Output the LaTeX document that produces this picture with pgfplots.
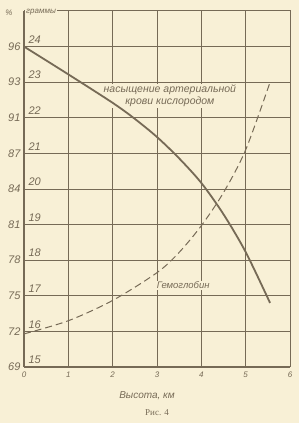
\documentclass[border=0pt]{standalone}
\usepackage{pgfplots}
\pgfplotsset{compat=1.18}
\usepackage{fontspec}
\setmainfont{Liberation Sans}
\newfontfamily\serifru{Liberation Serif}
\definecolor{bg}{RGB}{248,240,214}
\definecolor{ink}{RGB}{118,106,86}
\begin{document}
\begin{tikzpicture}[x=1pt,y=1pt]
\fill[bg] (0,0) rectangle (299,423);
\begin{axis}[at={(24pt,56pt)}, anchor=south west, scale only axis,
  width=266pt, height=356pt,
  xmin=0, xmax=6, ymin=15, ymax=25,
  xtick={0,...,6}, ytick={15,...,24},
  yticklabels={69,72,75,78,81,84,87,91,93,96},
  grid=major, major grid style={ink, line width=0.8pt},
  axis line style={ink, line width=1pt},
  tick style={draw=none},
  /pgf/number format/assume math mode=true,
  xticklabel style={font=\itshape\fontsize{8}{8}\selectfont, text=ink, yshift=-1pt},
  yticklabel style={font=\itshape\fontsize{11}{11}\selectfont, text=ink, xshift=0pt},
  clip=false]
\node[fill=bg, inner sep=1pt, align=center, text=ink, font=\itshape\fontsize{10.5}{12}\selectfont] at (axis cs:3.29,22.61) {насыщение артериальной\\крови кислородом};
\node[fill=bg, inner sep=1pt, text=ink, font=\itshape\fontsize{9.5}{11}\selectfont] at (axis cs:3.59,17.3) {Гемоглобин};
\draw[ink, line width=2pt] (rel axis cs:0,0) -- (rel axis cs:0,1);
\addplot[ink, line width=1.8pt, smooth] coordinates {
 (0,24) (1,23.22) (2,22.42) (2.5,21.97) (3,21.46) (3.5,20.86) (4,20.17)
 (4.5,19.29) (5,18.23) (5.55,16.8)};
\addplot[ink, line width=1pt, smooth, dash pattern=on 7pt off 4pt] coordinates {
 (0,15.93) (1,16.3) (2,16.87) (3,17.65) (3.5,18.22) (4,18.97)
 (4.5,19.9) (5,21.1) (5.55,23.0)};
\pgfplotsinvokeforeach{15,...,24}{
  \node[anchor=south west, inner sep=0pt, text=ink, font=\itshape\fontsize{11}{11}\selectfont] at (axis cs:0.1,#1) [yshift=3pt] {#1};
}
\node[anchor=west, fill=bg, inner sep=1pt, text=ink, font=\itshape\fontsize{8}{8}\selectfont] at (rel axis cs:0,1) [xshift=1pt, yshift=-1.5pt] {граммы};
\node[text=ink, font=\itshape\fontsize{8}{8}\selectfont] at (rel axis cs:0,1) [xshift=-15pt, yshift=-2pt] {\%};
\end{axis}
\node[text=ink, font=\itshape\fontsize{10}{10}\selectfont] at (147,27) {Высота, км};
\node[text=ink, font=\serifru\fontsize{9}{9}\selectfont] at (157,10) {Рис. 4};
\pgfresetboundingbox
\path (0,0) rectangle (299,423);
\end{tikzpicture}
\end{document}
